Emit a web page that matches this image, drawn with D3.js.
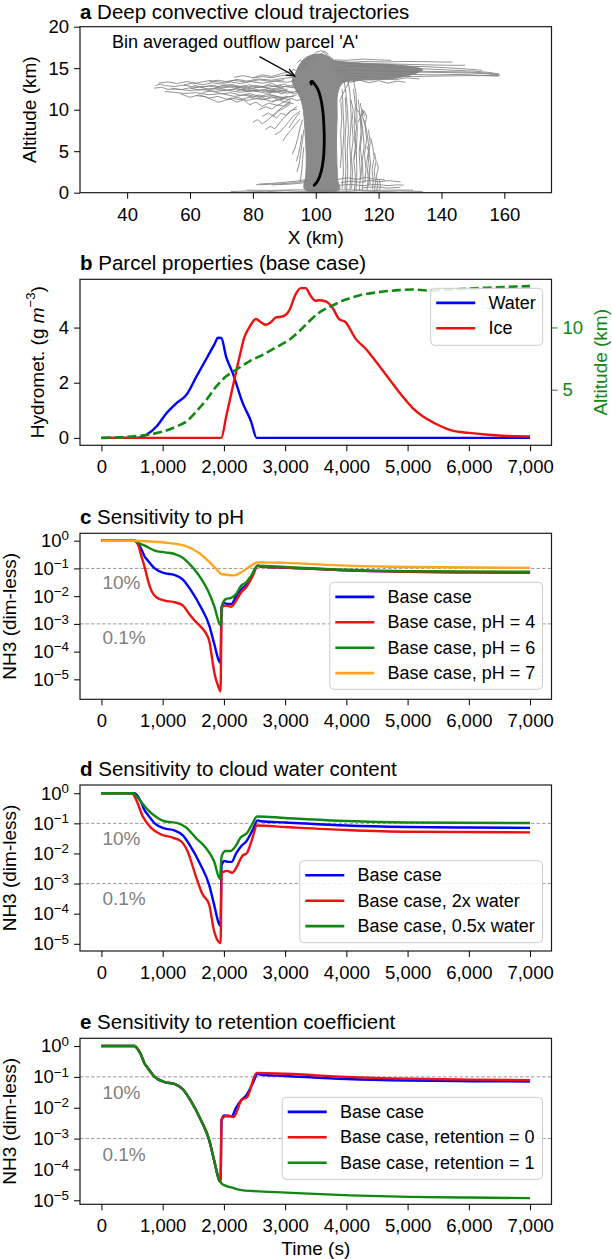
<!DOCTYPE html>
<html><head><meta charset="utf-8">
<script src="https://cdn.jsdelivr.net/npm/d3@7"></script>
<style>body{margin:0;background:#fff}svg text{font-family:"Liberation Sans",Arial,Helvetica,sans-serif;font-weight:normal}</style>
</head><body><svg id="c" width="612" height="1259"></svg>
<script>
// ---------------- DATA ----------------
// Panel a: trajectories (x km, altitude km)
const trajCore = [[96.5,0.4],[96.8,2],[97,4],[96.8,6],[96.5,8],[96,10],[95,11.5],[93.5,12.5],[92.5,13.5],[93.5,14.3],[94.5,15.2],[96,16],[98,16.5],[101,16.7],[103.5,16.5],[105.5,16],[108,15.8],[115,15.6],[122,15.5],[128,15.3],[132,15.1],[134,14.8],[132,14.4],[128,14.0],[124,13.7],[118,13.6],[112,13.5],[108.5,13.2],[107,12],[106.8,9],[106.6,6],[106.8,3],[107,1.5],[107.5,0.4]];
const trajLines = [
 [[49,12.9],[50.5,13.1],[52,12.9],[55,12.8],[58,12.95],[62,12.7],[66,12.85],[70,12.6],[74,12.8],[78,12.5],[82,12.75],[86,12.5],[90,12.8],[94,12.6]],
 [[48.5,12.6],[51,12.7],[53,12.45],[56,12.5],[60,12.3],[64,12.45],[68,12.2],[72,12.35],[76,12.1],[80,12.3],[84,12.0],[88,12.2],[91,12.0],[95,12.3]],
 [[52,12.2],[55,12.1],[58,11.95],[62,12.05],[66,11.8],[70,11.95],[74,11.6],[78,11.8],[82,11.5],[86,11.7],[90,11.4],[94,11.8]],
 [[58,13.0],[61,13.2],[64,13.0],[67,13.25],[70,13.1],[73,13.35],[76,13.15],[79,13.4],[83,13.2],[87,13.45],[91,13.3],[94,13.6]],
 [[60,12.55],[63,12.75],[66,12.45],[69,12.6],[72,12.35],[75,12.55],[78,12.25],[81,12.45],[84,12.15],[88,12.4],[93,12.1]],
 [[62,11.7],[65,11.55],[67,11.2],[69,10.9],[71,11.1],[73,11.4],[76,11.2],[79,11.5],[83,11.2],[87,11.5],[92,11.2]],
 [[66,13.4],[69,13.55],[72,13.35],[75,13.65],[78,13.45],[82,13.7],[86,13.55],[90,13.8],[93,13.9]],
 [[64,12.1],[67,12.25],[70,11.9],[73,12.05],[76,11.75],[79,11.95],[82,11.6],[85,11.85],[89,11.5],[93,11.6]],
 [[70,12.9],[73,13.05],[76,12.8],[79,13.0],[82,12.7],[85,12.95],[89,12.7],[93,13.0]],
 [[72,11.4],[75,10.9],[77,11.2],[79,10.6],[81,10.9],[83,10.4],[85,10.8],[88,10.5],[90,11.0],[93,10.7]],
 [[75,12.3],[78,12.5],[81,12.2],[84,12.45],[87,12.1],[91,12.35]],
 [[80,13.8],[83,14.0],[86,13.85],[89,14.1],[92,14.2]],
 [[50,13.2],[53,13.35],[56,13.15],[59,13.4],[62,13.2],[66,13.5],[70,13.3],[74,13.55],[78,13.3],[82,13.6],[86,13.4],[90,13.6]],
 [[54,12.6],[57,12.4],[60,12.65],[63,12.35],[67,12.55],[71,12.3],[75,12.5],[79,12.2],[83,12.4],[87,12.15],[91,12.5]],
 [[57,11.9],[60,11.5],[63,11.8],[66,11.4],[69,11.6],[72,11.2],[75,11.5],[78,11.1],[82,11.4],[86,11.0],[90,11.3]],
 [[68,12.7],[71,12.95],[74,12.6],[77,12.85],[80,12.55],[83,12.8],[86,12.4],[90,12.6]],
 [[74,13.9],[77,14.1],[80,13.85],[83,14.2],[86,14.0],[89,14.35],[92,14.6]],
 [[77,11.8],[80,11.5],[82,11.8],[84,11.3],[86,11.6],[88,11.2],[91,11.6]],
 [[61,12.95],[64,12.7],[67,12.95],[70,12.7],[73,12.9],[77,12.65],[81,12.9],[85,12.7],[89,13.0]],
 [[84,12.9],[86,13.2],[88,12.8],[90,13.1],[92,12.7],[94,13.0]],
 [[85,11.9],[87,12.3],[89,11.9],[91,12.2],[93,11.9],[95,12.2]],
 [[86,10.9],[88,11.3],[90,10.9],[92,11.4],[94,11.1],[96,11.3]],
 [[80,8.5],[81.5,8.8],[83,8.3],[84.5,8.7],[86,9.2],[88,9.9],[90,10.5],[92,11.1]],
 [[84,7.6],[85.5,8.0],[87,7.7],[88.5,8.4],[90,9.1],[92,9.8],[94,10.4]],
 [[87,7.0],[88.5,7.3],[90,7.9],[91.5,8.6],[93,9.3],[95,9.8]],
 [[89.5,6.2],[90.5,6.8],[92,7.5],[93.5,8.2],[95,8.9]],
 [[82,10.0],[84,10.35],[86,10.1],[88,10.6],[90,10.4],[92,10.9]],
 [[86,9.4],[87.5,9.0],[89,9.6],[90.5,9.3],[92,9.9],[94,10.1]],
 [[83,9.2],[85,9.6],[86.5,9.2],[88,9.8],[90,10.2],[92,10.7]],
 [[91.5,7.8],[92.5,8.4],[93.5,9.0],[94.8,9.6]],
 [[93.8,3.8],[94.5,4.6],[95.1,5.8],[95.6,7.0]],
 [[92.5,4.6],[93.5,5.5],[94.3,6.6],[95,7.8],[95.8,8.8]],
 [[94,2.5],[94.8,3.6],[95.3,5.0],[95.8,6.4],[96.2,7.6]],
 [[95,1.2],[95.5,2.5],[95.8,4.0],[96.2,5.5]],
 [[92,14.4],[93,14.9],[94,14.6],[95,15.3],[96,15.1],[97,15.8],[98,16.3],[99.5,16.1],[101,16.6],[102.5,16.9],[104,16.5],[105.5,16.1]],
 [[94,15.6],[95,16.0],[96,15.7],[96.8,15.2],[97.5,15.7]],
 [[99,16.4],[100,16.9],[101.5,17.1],[103,17.0],[104,16.7]],
 [[95.5,14.6],[96.3,15.4],[97.3,15.0],[98,15.5]],
 [[104,15.8],[110,15.7],[116,15.8],[122,15.75],[128,15.8],[134,15.8],[139,15.75],[143.5,15.75]],
 [[106,15.5],[112,15.55],[118,15.45],[124,15.5],[130,15.45],[136,15.4],[142,15.35],[147.5,15.35]],
 [[105,15.1],[112,15.2],[120,15.05],[128,15.0],[136,14.9],[144,14.75],[150,14.65],[155,14.5],[158.5,14.3]],
 [[105,14.8],[113,14.75],[121,14.6],[129,14.55],[137,14.5],[145,14.45],[151,14.4],[155,14.3],[158.5,14.15]],
 [[106,14.4],[114,14.35],[122,14.3],[130,14.25],[138,14.2],[146,14.25],[152,14.15],[158,14.05]],
 [[107,14.1],[115,14.0],[123,14.05],[131,14.0],[139,14.05],[147,14.1],[153,14.1],[158.5,14.1]],
 [[107,14.6],[115,14.8],[123,14.7],[131,14.65],[139,14.6],[147,14.55],[153,14.45],[158,14.25]],
 [[108,13.6],[111,13.3],[114,13.55],[117,13.25],[120,13.5],[123,13.2],[126,13.45],[128.5,13.3]],
 [[109,13.9],[112,13.65],[115,13.9],[118,13.6],[121,13.85],[125,13.6],[129,13.85],[133,13.7]],
 [[106,16.0],[110,15.95],[115,16.1],[120,16.0],[124,15.95]],
 [[110,15.3],[118,15.35],[126,15.25],[134,15.2],[142,15.05],[148,14.9],[153,14.75]],
 [[112.8,0.3],[113.1,2.5],[112.9,5],[113.2,7.5],[113,10],[112.8,12],[112,13.6]],
 [[109.8,0.2],[110.2,2.5],[110,5],[110.4,7.5],[110.1,10],[109.6,12],[109,13.5]],
 [[111.4,0.5],[111.7,2.5],[111.3,4.5],[111.9,6.5],[111.5,8.5],[111.9,10],[111.2,11.2]],
 [[114.8,0.2],[115.1,1.8],[114.8,3.8],[115.4,5.6],[115,7.4],[114.5,8.8],[113.7,9.7],[112.8,10.2]],
 [[116.3,0.3],[116.7,1.8],[116.2,3.6],[116.9,5.4],[116.4,7],[115.7,8.4],[115.0,9.0]],
 [[118,0.4],[118.3,1.4],[117.9,2.8],[118.6,4.2],[118.1,5.6],[117.5,6.6]],
 [[119.4,0.2],[119.7,1.0],[119.3,2.0],[119.9,3.0],[119.5,3.6]],
 [[108.4,0.5],[108.8,2.5],[108.6,5],[109,7.5],[108.7,10],[108.4,12.5]],
 [[113.9,0.3],[114.2,2.3],[113.8,4.8],[114.4,7.2],[114.1,9.4],[113.5,11.2]],
 [[117.4,1.0],[116.9,2.4],[117.5,3.4],[117,4.8],[116.3,5.6]],
 [[115.6,1.2],[116,2.8],[115.5,4.6],[116.2,6.4],[115.7,8],[114.9,9.2],[114.2,10.8]],
 [[120.3,0.3],[120.6,0.9],[120.2,1.6]],
 [[112.2,4],[112.8,5.2],[112.3,6.4],[113,7.8],[112.4,9.2]],
 [[107.6,11],[108.5,11.8],[109.6,12.6],[110.5,13.3]],
 [[110.9,0.3],[111.2,3],[110.8,6],[111.3,9],[110.9,12],[110.3,13.4]],
 [[112.3,0.2],[112.6,2],[112.1,4],[112.7,6],[112.2,8],[112.6,10.5],[112,12.5]],
 [[114.3,1.5],[114.7,3.5],[114.2,5.5],[114.8,7.5],[114.3,9],[115,10],[115.5,9.2]],
 [[116.8,0.8],[117.2,2.4],[116.7,4.2],[117.3,6],[116.8,7.6]],
 [[109.3,0.4],[109.6,3],[109.3,6],[109.7,9],[109.4,11.5]],
 [[118.7,0.2],[119,1.3],[118.6,2.6],[119.2,3.8],[118.7,4.8]],
 [[113.5,8.5],[114.5,9.3],[115.5,9.8],[116.2,9.2],[115.8,8.4]],
 [[107.8,3],[108.2,5],[107.9,7],[108.3,9],[108,11]],
 [[73,0.15],[78,0.2],[84,0.12],[90,0.22],[96,0.15],[102,0.2],[108,0.12],[114,0.22],[120,0.12],[127,0.2],[134,0.15]],
 [[78,0.3],[86,0.28],[94,0.35],[102,0.3],[110,0.35],[118,0.28],[126,0.32],[131,0.3]],
 [[81,0.95],[85,1.0],[89,1.08],[93,1.2],[96,1.35],[98,1.5]],
 [[82,1.05],[86,1.12],[90,1.25],[94,1.4],[97,1.6]],
 [[86,0.95],[90,1.0],[94,1.1],[97,1.25]],
 [[108,1.2],[111,1.4],[114,1.25],[117,1.5],[120,1.3],[123,1.45],[127,1.3]],
 [[107.5,0.9],[111,1.0],[115,0.85],[119,1.0],[123,0.85],[126,0.95],[128,0.9]],
 [[107,1.6],[110,1.8],[113,1.6],[116,1.85],[119,1.6],[122,1.55]],
 [[115,0.6],[119,0.7],[123,0.55],[127,0.65]]
];
const parcelA = [[99.5,0.9],[100.6,1.4],[101.7,2.5],[102.4,4],[102.7,6],[102.6,8],[102.2,10],[101.5,11.5],[100.6,12.5],[99.6,13.1],[98.9,13.4],[98.4,13.3],[98.6,13.1]];
const arrowA = [[82.1,16.4],[93.3,14.06]];
const xTicksA = [40,60,80,100,120,140,160];
const yTicksA = [0,5,10,15,20];

// Panel b: time (s) vs hydrometeors (g m^-3) and altitude (km)
const waterB = [[0,0],[578,0],[741,0.12],[903,0.42],[1065,0.9],[1227,1.26],[1389,1.56],[1551,2.22],[1714,2.87],[1849,3.41],[1903,3.63],[1957,3.62],[2038,2.93],[2146,2.34],[2308,1.26],[2443,0.6],[2535,0],[7000,0]];
const iceB = [[0,0],[1957,0],[2038,0.78],[2146,1.86],[2254,2.93],[2335,3.65],[2416,4.01],[2524,4.31],[2605,4.19],[2686,4.1],[2768,4.19],[2849,4.37],[2957,4.4],[3065,4.61],[3173,5.21],[3254,5.43],[3335,5.43],[3416,5.15],[3497,4.97],[3554,4.99],[3662,4.95],[3771,4.73],[3880,4.31],[3989,4.19],[4152,3.59],[4316,3.23],[4425,2.93],[4588,2.46],[4751,1.98],[4918,1.5],[5083,1.08],[5246,0.78],[5459,0.51],[5731,0.26],[6003,0.18],[6275,0.12],[6602,0.07],[7000,0.05]];
const altB = [[0,1.12],[686,1.33],[957,1.57],[1227,2.05],[1389,2.45],[1551,3.26],[1714,4.19],[1876,5.26],[2038,6.07],[2200,6.6],[2416,7.28],[2632,7.8],[2849,8.4],[3065,9.0],[3227,9.67],[3389,10.48],[3554,11.18],[3771,11.76],[3989,12.24],[4207,12.57],[4533,12.84],[4860,13.0],[5078,13.05],[5350,12.97],[5731,13.05],[6275,13.19],[7000,13.32]];
const yTicksBLeft = [0,2,4];
const yTicksBRight = [5,10];

const timeTicks = [0,1000,2000,3000,4000,5000,6000,7000];
const logTicks = [0,-1,-2,-3,-4,-5];      // exponents of 10
const refLines = [-1,-3];                  // 10% and 0.1%
const refLabels = ["10%","0.1%"];

// NH3 (dim-less), stored as log10 values, time in s
const baseCase = [[0,0],[540,0],[600,-0.12],[650,-0.3],[700,-0.55],[760,-0.72],[870,-1.0],[1030,-1.17],[1190,-1.23],[1330,-1.4],[1460,-1.78],[1620,-2.38],[1760,-3.05],[1840,-3.7],[1925,-4.36],[1945,-4.4],[1962,-2.4],[2010,-2.25],[2065,-2.28],[2125,-2.28],[2200,-2.0],[2285,-1.75],[2365,-1.6],[2475,-1.2],[2550,-0.9],[2600,-0.93],[3000,-0.97],[4000,-1.07],[5000,-1.12],[6000,-1.14],[7000,-1.15]];
const pH4 = [[0,0],[540,0],[600,-0.15],[650,-0.55],[707,-0.96],[761,-1.44],[815,-1.8],[897,-2.04],[1033,-2.16],[1196,-2.22],[1332,-2.34],[1413,-2.58],[1522,-2.88],[1630,-3.12],[1712,-3.36],[1766,-3.66],[1804,-4.2],[1848,-4.8],[1902,-5.22],[1946,-5.43],[1962,-2.4],[2038,-2.34],[2120,-2.38],[2200,-2.16],[2283,-1.86],[2364,-1.68],[2473,-1.26],[2554,-0.9],[2600,-0.93],[3000,-0.97],[4000,-1.07],[5000,-1.12],[6000,-1.14],[7000,-1.15]];
const pH6 = [[0,0],[540,0],[600,-0.08],[707,-0.18],[870,-0.36],[1033,-0.42],[1196,-0.48],[1304,-0.58],[1413,-0.78],[1576,-1.2],[1739,-1.8],[1848,-2.4],[1929,-3.0],[1950,-3.05],[1972,-2.3],[2038,-2.1],[2120,-2.06],[2200,-1.92],[2283,-1.62],[2364,-1.5],[2446,-1.26],[2554,-0.9],[3000,-0.95],[4000,-1.05],[5000,-1.1],[7000,-1.12]];
const pH7 = [[0,0],[540,0],[800,-0.03],[1087,-0.08],[1359,-0.18],[1576,-0.42],[1739,-0.72],[1875,-1.02],[1957,-1.2],[2174,-1.25],[2283,-1.14],[2446,-0.9],[2554,-0.78],[3000,-0.8],[4000,-0.9],[5000,-0.95],[7000,-0.98]];
const water2x = [[0,0],[500,0],[568,-0.22],[676,-0.77],[811,-1.15],[973,-1.37],[1135,-1.46],[1297,-1.59],[1405,-1.92],[1541,-2.75],[1649,-3.35],[1757,-3.68],[1838,-4.56],[1919,-4.95],[1946,-4.98],[1963,-2.64],[2054,-2.58],[2135,-2.64],[2216,-2.42],[2297,-2.09],[2378,-1.98],[2459,-1.54],[2540,-1.07],[3000,-1.12],[4000,-1.22],[5000,-1.28],[7000,-1.3]];
const water05x = [[0,0],[514,0],[622,-0.22],[757,-0.55],[919,-0.82],[1027,-0.93],[1243,-0.99],[1378,-1.13],[1541,-1.48],[1703,-1.81],[1838,-2.25],[1935,-2.84],[1963,-2.09],[2027,-1.92],[2108,-1.92],[2189,-1.76],[2270,-1.48],[2378,-1.32],[2459,-1.04],[2540,-0.77],[3000,-0.82],[4000,-0.92],[5000,-0.97],[7000,-0.99]];
const retention0 = [[0,0],[540,0],[600,-0.12],[650,-0.3],[700,-0.55],[760,-0.72],[870,-1.0],[1030,-1.17],[1190,-1.23],[1330,-1.4],[1460,-1.78],[1620,-2.38],[1760,-3.05],[1840,-3.7],[1925,-4.36],[1945,-4.4],[1962,-2.36],[2063,-2.25],[2159,-2.3],[2286,-1.76],[2381,-1.65],[2540,-0.87],[3000,-0.9],[4000,-1.0],[5000,-1.06],[6000,-1.09],[7000,-1.11]];
const retention1 = [[0,0],[540,0],[600,-0.12],[650,-0.3],[700,-0.55],[760,-0.72],[870,-1.0],[1030,-1.17],[1190,-1.23],[1330,-1.4],[1460,-1.78],[1620,-2.38],[1760,-3.05],[1840,-3.7],[1925,-4.36],[1960,-4.45],[2032,-4.53],[2150,-4.6],[2286,-4.67],[2476,-4.7],[3016,-4.75],[4063,-4.84],[5016,-4.89],[6000,-4.91],[7000,-4.93]];

const legendB = ["Water","Ice"];
const legendC = ["Base case","Base case, pH = 4","Base case, pH = 6","Base case, pH = 7"];
const legendD = ["Base case","Base case, 2x water","Base case, 0.5x water"];
const legendE = ["Base case","Base case, retention = 0","Base case, retention = 1"];

// ---------------- LAYOUT / STYLE ----------------
const BLUE="#0000ff", RED="#ee1111", GREEN="#118811", ORANGE="#ffa51e", GRAY="#808080";
const L=80, R=551.5, PH=166;
const tops=[26.7,279.3,533.3,785,1038.3];
const TICKF=18.5, LEGF=18, TITLEF=20.5, LABF=19;
const svg=d3.select("#c");

function title(top, letter, rest, base){
  const t=svg.append("text").attr("x",L).attr("y",base!==undefined?base:top-9.5).attr("font-size",TITLEF).attr("fill","#000").attr("font-weight","normal");
  t.append("tspan").attr("font-weight","bold").text(letter);
  t.append("tspan").attr("font-weight","normal").text(" "+rest);
}
function styleAxis(g, col){
  g.select(".domain").remove();
  g.selectAll(".tick line").attr("stroke",col||"#000").attr("stroke-width",1);
  g.selectAll(".tick text").attr("font-size",TICKF).attr("fill",col||"#000").attr("font-family",'"Liberation Sans",Arial,sans-serif');
}
function frame(top){
  svg.append("rect").attr("x",L).attr("y",top).attr("width",R-L).attr("height",PH)
    .attr("fill","none").attr("stroke","#1a1a1a").attr("stroke-width",1.2);
}
function xAxisBottom(scale, top, ticks, fmt){
  const g=svg.append("g").attr("transform",`translate(0,${top+PH})`)
    .call(d3.axisBottom(scale).tickValues(ticks).tickFormat(fmt).tickSize(6).tickPadding(9));
  styleAxis(g);
}
function yLabel(x, yc, txt, col){
  return svg.append("text").attr("transform",`translate(${x},${yc}) rotate(-90)`)
    .attr("text-anchor","middle").attr("dominant-baseline","central")
    .attr("font-size",LABF).attr("fill",col||"#000").text(txt);
}
function legend(x0,y0,w,h,labels,colors){
  svg.append("rect").attr("x",x0).attr("y",y0).attr("width",w).attr("height",h).attr("rx",4)
    .attr("fill","#fff").attr("fill-opacity",0.85).attr("stroke","#cccccc").attr("stroke-width",1);
  labels.forEach((lab,i)=>{
    const yy=y0+14.6+i*25.4;
    svg.append("line").attr("x1",x0+5.5).attr("x2",x0+44.5).attr("y1",yy).attr("y2",yy)
      .attr("stroke",colors[i]).attr("stroke-width",2.6);
    svg.append("text").attr("x",x0+57.8).attr("y",yy).attr("dominant-baseline","central")
      .attr("font-size",LEGF).attr("fill","#000").text(lab);
  });
}

// ---------------- PANEL A ----------------
{
  const top=tops[0];
  const x=d3.scaleLinear().domain([25,175]).range([L,R]);
  const y=d3.scaleLinear().domain([0,20]).range([top+PH,top]);
  svg.append("clipPath").attr("id","clipA").append("rect").attr("x",L).attr("y",top).attr("width",R-L).attr("height",PH);
  const g=svg.append("g").attr("clip-path","url(#clipA)");
  const line=d3.line().x(d=>x(d[0])).y(d=>y(d[1]));
  g.append("path").attr("d",d3.line().x(d=>x(d[0])).y(d=>y(d[1])).curve(d3.curveCatmullRomClosed)(trajCore))
    .attr("fill","#8a8a8a").attr("stroke","#8a8a8a").attr("stroke-width",1);
  g.selectAll("path.tr").data(trajLines).join("path").attr("class","tr").attr("d",line)
    .attr("fill","none").attr("stroke",GRAY).attr("stroke-width",0.85).attr("stroke-linejoin","round");
  g.append("path").attr("d",d3.line().x(d=>x(d[0])).y(d=>y(d[1])).curve(d3.curveCatmullRom)(parcelA))
    .attr("fill","none").attr("stroke","#000").attr("stroke-width",2.8).attr("stroke-linecap","round");
  const [p0,p1]=arrowA;
  const X0=x(p0[0]),Y0=y(p0[1]),X1=x(p1[0]),Y1=y(p1[1]);
  svg.append("line").attr("x1",X0).attr("y1",Y0).attr("x2",X1).attr("y2",Y1).attr("stroke","#000").attr("stroke-width",1.3);
  const ang=Math.atan2(Y1-Y0,X1-X0), hl=9, ha=0.4;
  svg.append("path").attr("d",`M${X1-hl*Math.cos(ang-ha)},${Y1-hl*Math.sin(ang-ha)}L${X1},${Y1}L${X1-hl*Math.cos(ang+ha)},${Y1-hl*Math.sin(ang+ha)}`)
    .attr("fill","none").attr("stroke","#000").attr("stroke-width",1.3);
  svg.append("text").attr("x",x(35.2)).attr("y",y(18.1)).attr("dominant-baseline","central")
    .attr("font-size",18).attr("fill","#000").text("Bin averaged outflow parcel 'A'");
  frame(top);
  xAxisBottom(x, top, xTicksA, d3.format("d"));
  const gy=svg.append("g").attr("transform",`translate(${L},0)`).call(d3.axisLeft(y).tickValues(yTicksA).tickFormat(d3.format("d")).tickSize(6).tickPadding(5));
  styleAxis(gy);
  svg.append("text").attr("x",(L+R)/2).attr("y",top+PH+51).attr("text-anchor","middle").attr("font-size",LABF).text("X (km)");
  yLabel(29.5, top+PH/2, "Altitude (km)");
  title(top,"a","Deep convective cloud trajectories",19);
}

const xT=d3.scaleLinear().domain([-350,7350]).range([L,R]);

// ---------------- PANEL B ----------------
{
  const top=tops[1];
  const y=d3.scaleLinear().domain([-0.27,5.75]).range([top+PH,top]);
  const y2=d3.scaleLinear().domain([0.53,13.87]).range([top+PH,top]);
  const ln=d3.line().x(d=>xT(d[0])).y(d=>y(d[1])).curve(d3.curveMonotoneX);
  const ln2=d3.line().x(d=>xT(d[0])).y(d=>y2(d[1])).curve(d3.curveMonotoneX);
  svg.append("path").attr("d",ln(waterB)).attr("fill","none").attr("stroke",BLUE).attr("stroke-width",2.4);
  svg.append("path").attr("d",ln(iceB)).attr("fill","none").attr("stroke",RED).attr("stroke-width",2.4);
  svg.append("path").attr("d",ln2(altB)).attr("fill","none").attr("stroke",GREEN).attr("stroke-width",2.6).attr("stroke-dasharray","9,4");
  frame(top);
  xAxisBottom(xT, top, timeTicks, d3.format(","));
  const gy=svg.append("g").attr("transform",`translate(${L},0)`).call(d3.axisLeft(y).tickValues(yTicksBLeft).tickFormat(d3.format("d")).tickSize(6).tickPadding(5));
  styleAxis(gy);
  const gr=svg.append("g").attr("transform",`translate(${R},0)`).call(d3.axisRight(y2).tickValues(yTicksBRight).tickFormat(d3.format("d")).tickSize(6).tickPadding(5));
  styleAxis(gr, GREEN);
  const t=svg.append("text").attr("transform",`translate(37,${top+PH/2}) rotate(-90)`)
    .attr("text-anchor","middle").attr("dominant-baseline","central").attr("font-size",LABF);
  t.append("tspan").text("Hydromet. (g ");
  t.append("tspan").attr("font-style","italic").text("m");
  t.append("tspan").attr("font-size",13).attr("dy",-7).text("−3");
  t.append("tspan").attr("dy",7).text(")");
  yLabel(600, top+PH/2, "Altitude (km)", GREEN);
  legend(430.7, 288.3, 112, 57, legendB, [BLUE,RED]);
  title(top,"b","Parcel properties (base case)");
}

// ---------------- LOG PANELS ----------------
function logPanel(top, domExp, series, colors, leg, box, letter, ttl, last){
  const y=d3.scaleLog().domain([Math.pow(10,domExp[0]),Math.pow(10,domExp[1])]).range([top+PH,top]);
  refLines.forEach((e,i)=>{
    svg.append("line").attr("x1",L).attr("x2",R).attr("y1",y(Math.pow(10,e))).attr("y2",y(Math.pow(10,e)))
      .attr("stroke","#909090").attr("stroke-width",0.9).attr("stroke-dasharray","3.5,2");
    svg.append("text").attr("x",xT(0)+1).attr("y",y(Math.pow(10,e-0.5))).attr("dominant-baseline","central")
      .attr("font-size",19).attr("fill",GRAY).text(refLabels[i]);
  });
  const ln=d3.line().x(d=>xT(d[0])).y(d=>y(Math.pow(10,d[1]))).curve(d3.curveMonotoneX);
  series.forEach((s,i)=>{
    svg.append("path").attr("d",ln(s)).attr("fill","none").attr("stroke",colors[i]).attr("stroke-width",2.4).attr("stroke-linejoin","round");
  });
  frame(top);
  xAxisBottom(xT, top, timeTicks, d3.format(","));
  const gy=svg.append("g").attr("transform",`translate(${L},0)`)
    .call(d3.axisLeft(y).tickValues(logTicks.map(e=>Math.pow(10,e))).tickSize(6).tickPadding(5).tickFormat(""));
  styleAxis(gy);
  gy.selectAll(".tick text").each(function(d){
    const e=Math.round(Math.log10(d));
    const s=d3.select(this);
    s.text("10");
    s.append("tspan").attr("dy","-0.5em").attr("font-size","0.72em").text(e<0?"−"+(-e):String(e));
  });
  yLabel(9, top+PH/2, "NH3 (dim-less)");
  legend(box[0],box[1],box[2],box[3],leg,colors);
  title(top,letter,ttl);
  if(last){
    svg.append("text").attr("x",(L+R)/2).attr("y",top+PH+51).attr("text-anchor","middle").attr("font-size",LABF).text("Time (s)");
  }
}
logPanel(tops[2],[-5.72,0.267],[baseCase,pH4,pH6,pH7],[BLUE,RED,GREEN,ORANGE],legendC,[329.8,582.3,212.7,107],"c","Sensitivity to pH",false);
logPanel(tops[3],[-5.24,0.274],[baseCase,water2x,water05x],[BLUE,RED,GREEN],legendD,[299.8,860.7,242.7,82],"d","Sensitivity to cloud water content",false);
logPanel(tops[4],[-5.13,0.25],[baseCase,retention0,retention1],[BLUE,RED,GREEN],legendE,[282.2,1097.3,260.3,82],"e","Sensitivity to retention coefficient",true);
</script></body></html>
